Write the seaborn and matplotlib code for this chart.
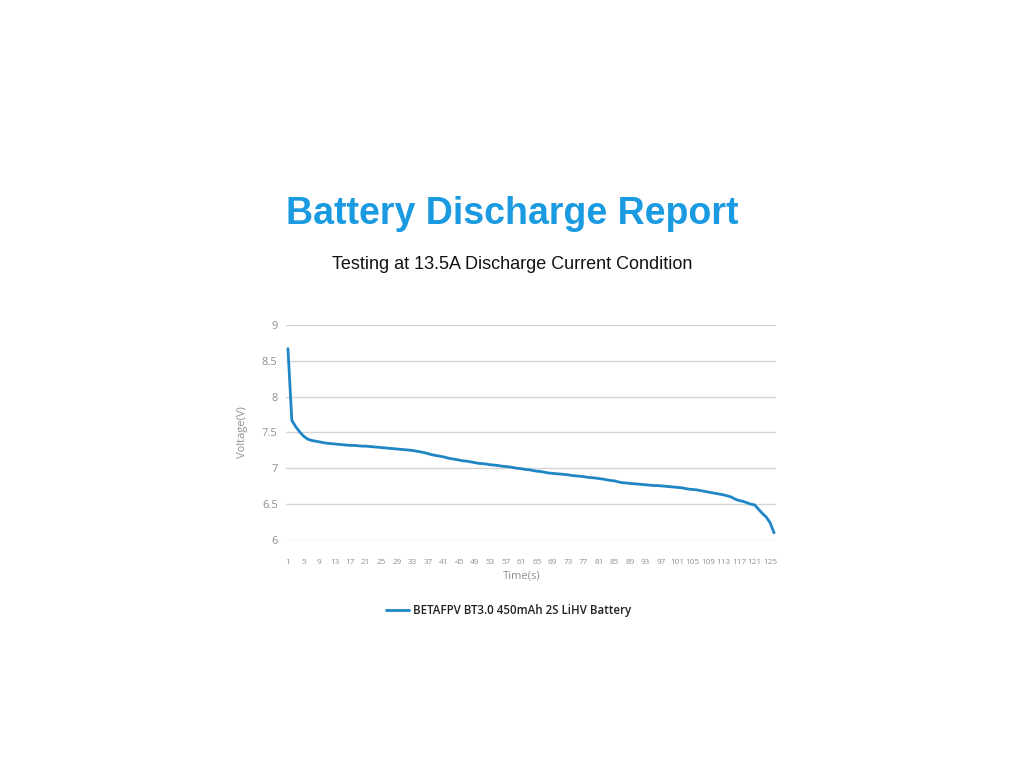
import numpy as np
import pandas as pd
import seaborn as sns
import matplotlib.pyplot as plt

# discharge curve, one value per second (1..126)
voltage = [
    8.67, 7.67, 7.58, 7.51, 7.45, 7.41, 7.39, 7.38, 7.37, 7.36,
    7.35, 7.345, 7.34, 7.335, 7.33, 7.325, 7.32, 7.32, 7.315, 7.31,
    7.31, 7.305, 7.30, 7.295, 7.29, 7.285, 7.28, 7.275, 7.27, 7.265,
    7.26, 7.255, 7.25, 7.24, 7.23, 7.22, 7.205, 7.19, 7.18, 7.17,
    7.16, 7.145, 7.135, 7.125, 7.115, 7.105, 7.10, 7.09, 7.08, 7.07,
    7.065, 7.06, 7.05, 7.045, 7.04, 7.03, 7.025, 7.02, 7.01, 7.00,
    6.995, 6.985, 6.98, 6.97, 6.96, 6.955, 6.945, 6.935, 6.93, 6.925,
    6.92, 6.915, 6.91, 6.90, 6.895, 6.89, 6.885, 6.875, 6.87, 6.865,
    6.857, 6.85, 6.84, 6.83, 6.825, 6.81, 6.80, 6.795, 6.79, 6.785,
    6.78, 6.775, 6.77, 6.765, 6.76, 6.76, 6.755, 6.75, 6.745, 6.74,
    6.735, 6.73, 6.72, 6.71, 6.705, 6.70, 6.69, 6.68, 6.67, 6.66,
    6.65, 6.64, 6.63, 6.615, 6.60, 6.57, 6.55, 6.54, 6.52, 6.50,
    6.49, 6.43, 6.37, 6.32, 6.24, 6.10,
]
seconds = list(range(1, len(voltage) + 1))
xtick_labels = list(range(1, 126, 4))
ytick_values = [6, 6.5, 7, 7.5, 8, 8.5, 9]
ytick_text = ["6", "6.5", "7", "7.5", "8", "8.5", "9"]
series_name = "BETAFPV BT3.0 450mAh 2S LiHV Battery"

df = pd.DataFrame({"Time": seconds, "Voltage": voltage})

sns.set_theme(style="white")
plt.rcParams['font.family'] = ['Liberation Sans', 'DejaVu Sans']

gray = "#8f8f8f"
small_fam = ["Open Sans", "DejaVu Sans"]

fig = plt.figure(figsize=(10.24, 7.68), dpi=100)
ax = fig.add_axes([0.2793, 0.2969, 0.4785, 0.2799])

sns.lineplot(data=df, x="Time", y="Voltage", ax=ax, color="#1f86c6",
             linewidth=2, label=series_name)

ax.set_xlim(0.5, len(voltage) + 0.5)
ax.set_ylim(6, 9)
ax.set_yticks(ytick_values)
ax.set_yticklabels(ytick_text)
ax.set_xticks(xtick_labels)
ax.set_xticklabels([str(v) for v in xtick_labels])
ax.yaxis.grid(True, color="#d4d4d4", linewidth=1)
ax.xaxis.grid(False)
for s in ax.spines.values():
    s.set_visible(False)

ax.tick_params(axis="both", length=0, colors=gray)
ax.tick_params(axis="y", pad=6, labelsize=8)
ax.tick_params(axis="x", pad=14, labelsize=5.9)
for lab in ax.get_yticklabels() + ax.get_xticklabels():
    lab.set_fontfamily(small_fam)

ax.set_xlabel("Time(s)", color=gray, fontsize=8, fontfamily=small_fam)
ax.set_ylabel("Voltage(V)", color=gray, fontsize=8, fontfamily=small_fam)
ax.xaxis.set_label_coords(0.48, -0.14)
ax.yaxis.set_label_coords(-0.078, 0.5)

leg = ax.legend(loc="upper center", bbox_to_anchor=(0.454, -0.25), frameon=False,
                handlelength=2.0, handletextpad=0.4,
                prop={"family": small_fam, "size": 8.3, "weight": "semibold"})
for t in leg.get_texts():
    t.set_color("#222222")

fig.text(0.5, 0.722, "Battery Discharge Report", ha="center", va="center",
         fontsize=27, fontweight="bold", color="#1a9ae0")
fig.text(0.5, 0.656, "Testing at 13.5A Discharge Current Condition", ha="center",
         va="center", fontsize=13, color="#111111")

fig.savefig("out.png", dpi=100, facecolor="white")
